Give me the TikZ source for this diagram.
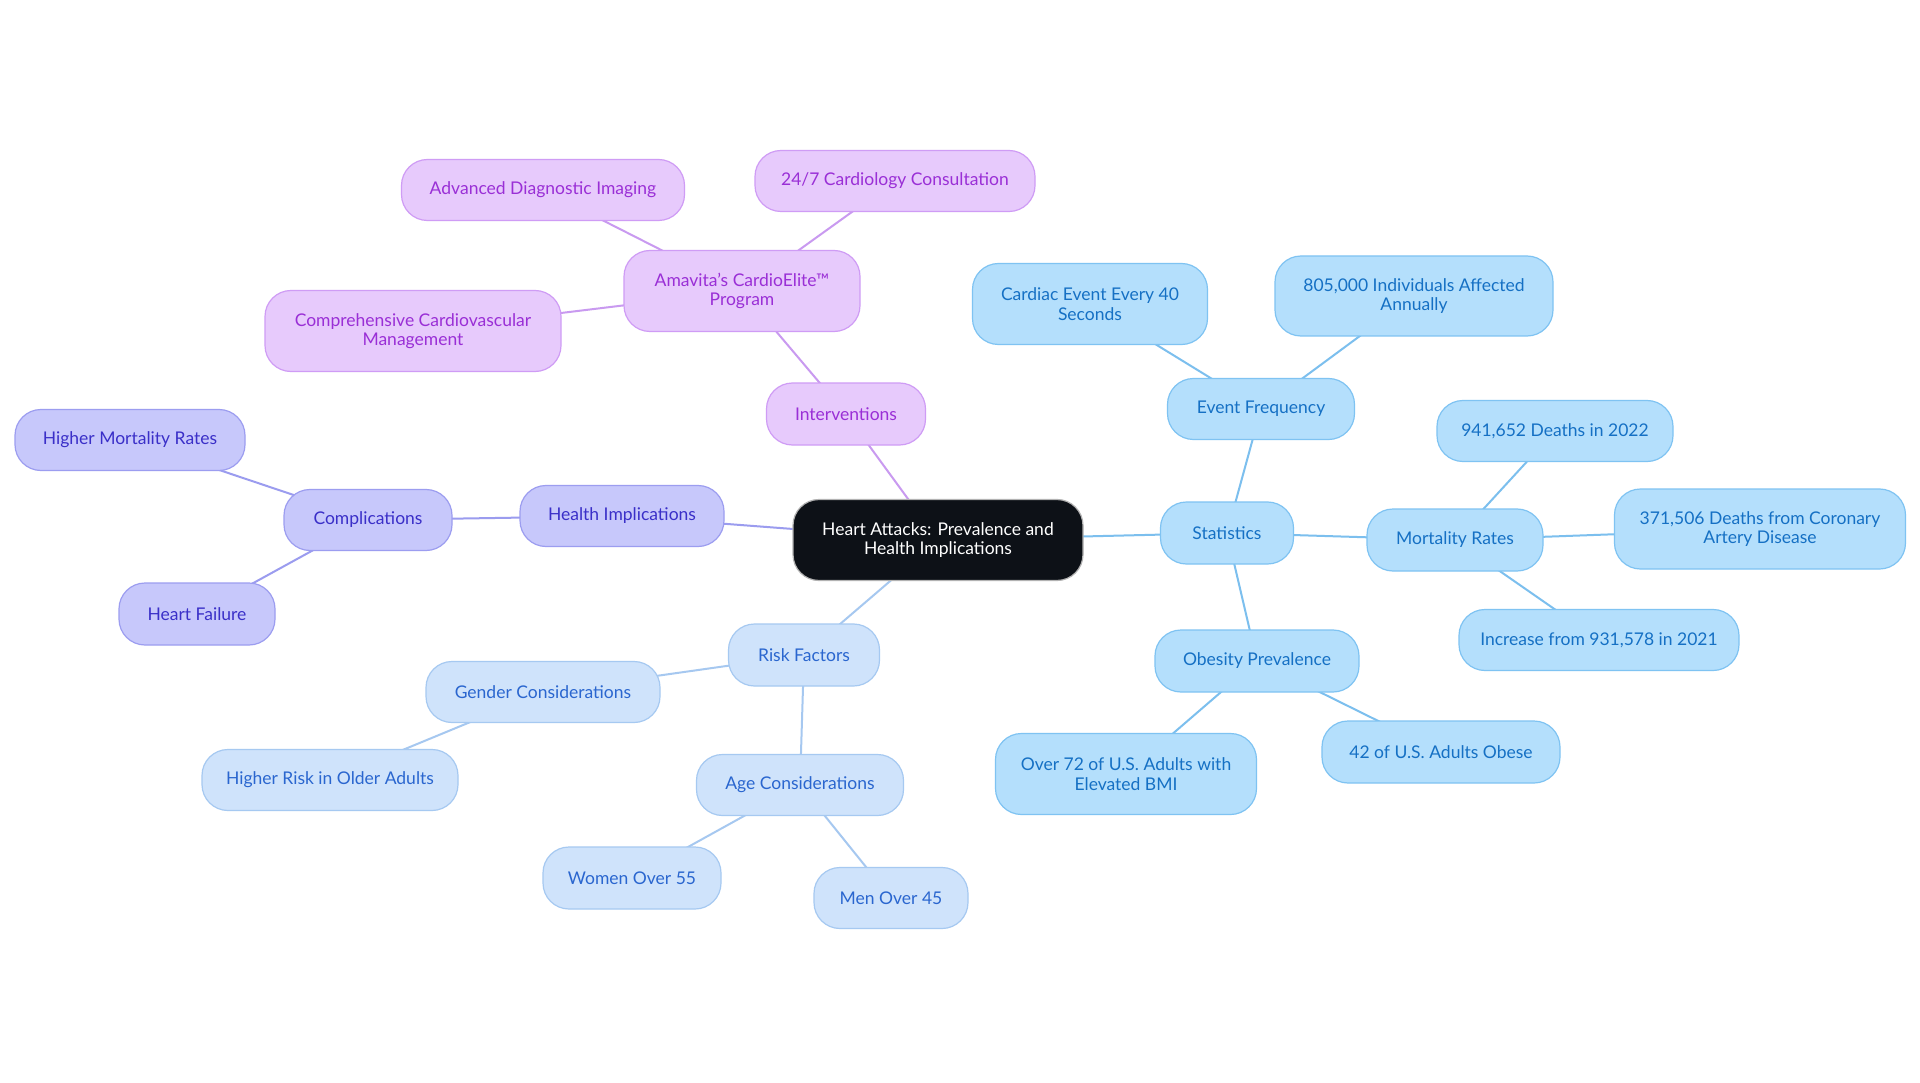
\documentclass[tikz,border=0pt]{standalone}
\usepackage{fontspec}
\setmainfont{Lato}
\usetikzlibrary{backgrounds}
\definecolor{rootfill}{HTML}{0D1117}
\definecolor{purfill}{HTML}{E7CAFC}
\definecolor{purdraw}{HTML}{CF9CF5}
\definecolor{purtext}{HTML}{9A2FD6}
\definecolor{purline}{HTML}{C99AF0}
\definecolor{viofill}{HTML}{C7C8FB}
\definecolor{viodraw}{HTML}{9C9DF0}
\definecolor{viotext}{HTML}{3A2FC8}
\definecolor{violine}{HTML}{9B9CEF}
\definecolor{lbfill}{HTML}{CFE3FB}
\definecolor{lbdraw}{HTML}{A6C9F1}
\definecolor{lbtext}{HTML}{2A66CF}
\definecolor{lbline}{HTML}{A6C8F0}
\definecolor{skyfill}{HTML}{B4DFFC}
\definecolor{skydraw}{HTML}{7FC3F2}
\definecolor{skytext}{HTML}{1570C4}
\definecolor{skyline}{HTML}{7CBFEE}
\tikzset{
  box/.style={rounded corners=26pt, line width=1.2pt, align=center, inner sep=0pt,
    font=\fontsize{17.5}{19.5}\selectfont},
  rootbox/.style={box, fill=rootfill, draw=gray!60, text=white},
  purbox/.style={box, fill=purfill, draw=purdraw, text=purtext},
  viobox/.style={box, fill=viofill, draw=viodraw, text=viotext},
  lbbox/.style={box, fill=lbfill, draw=lbdraw, text=lbtext},
  skybox/.style={box, fill=skyfill, draw=skydraw, text=skytext},
  edge/.style={line width=2pt},
  puredge/.style={edge, draw=purline},
  vioedge/.style={edge, draw=violine},
  lbedge/.style={edge, draw=lbline},
  skyedge/.style={edge, draw=skyline}
}
\begin{document}
\begin{tikzpicture}[x=1pt,y=-1pt]
\useasboundingbox (0,0) rectangle (1920,1083);
% root
\node[rootbox, minimum width=290pt, minimum height=81pt] (root) at (938,540) {Heart Attacks: Prevalence and\\Health Implications};
% interventions branch
\node[purbox, minimum width=159pt, minimum height=62pt] (interv) at (846,414) {Interventions};
\node[purbox, minimum width=236pt, minimum height=81pt] (amavita) at (742,291) {Amavita's CardioElite™\\Program};
\node[purbox, minimum width=283pt, minimum height=61pt] (adv) at (543,190) {Advanced Diagnostic Imaging};
\node[purbox, minimum width=280pt, minimum height=61pt] (cons) at (895,181) {24/7 Cardiology Consultation};
\node[purbox, minimum width=296pt, minimum height=81pt] (comp) at (413,331) {Comprehensive Cardiovascular\\Management};
% health branch
\node[viobox, minimum width=204pt, minimum height=61pt] (health) at (622,516) {Health Implications};
\node[viobox, minimum width=168pt, minimum height=61pt] (complic) at (368,520) {Complications};
\node[viobox, minimum width=230pt, minimum height=61pt] (hmr) at (130,440) {Higher Mortality Rates};
\node[viobox, minimum width=156pt, minimum height=62pt] (hf) at (197,614) {Heart Failure};
% risk branch
\node[lbbox, minimum width=151pt, minimum height=62pt] (risk) at (804,655) {Risk Factors};
\node[lbbox, minimum width=234pt, minimum height=61pt] (gender) at (543,692) {Gender Considerations};
\node[lbbox, minimum width=256pt, minimum height=61pt] (older) at (330,780) {Higher Risk in Older Adults};
\node[lbbox, minimum width=207pt, minimum height=61pt] (age) at (800,785) {Age Considerations};
\node[lbbox, minimum width=178pt, minimum height=62pt] (women) at (632,878) {Women Over 55};
\node[lbbox, minimum width=154pt, minimum height=61pt] (men) at (891,898) {Men Over 45};
% statistics branch
\node[skybox, minimum width=133pt, minimum height=62pt] (stats) at (1227,533) {Statistics};
\node[skybox, minimum width=187pt, minimum height=61pt] (event) at (1261,409) {Event Frequency};
\node[skybox, minimum width=235pt, minimum height=81pt] (cardiac) at (1090,304) {Cardiac Event Every 40\\Seconds};
\node[skybox, minimum width=278pt, minimum height=80pt] (annual) at (1414,296) {805,000 Individuals Affected\\Annually};
\node[skybox, minimum width=176pt, minimum height=62pt] (mort) at (1455,540) {Mortality Rates};
\node[skybox, minimum width=236pt, minimum height=61pt] (d2022) at (1555,431) {941,652 Deaths in 2022};
\node[skybox, minimum width=291pt, minimum height=80pt] (coronary) at (1760,529) {371,506 Deaths from Coronary\\Artery Disease};
\node[skybox, minimum width=280pt, minimum height=61pt] (incr) at (1599,640) {Increase from 931,578 in 2021};
\node[skybox, minimum width=204pt, minimum height=62pt] (obes) at (1257,661) {Obesity Prevalence};
\node[skybox, minimum width=261pt, minimum height=81pt] (bmi) at (1126,774) {Over 72 of U.S. Adults with\\Elevated BMI};
\node[skybox, minimum width=238pt, minimum height=62pt] (obese) at (1441,752) {42 of U.S. Adults Obese};
\begin{scope}[on background layer]
\fill[white] (0,0) rectangle (1920,1083);
\draw[puredge] (root.center) -- (interv.center);
\draw[puredge] (interv.center) -- (amavita.center);
\draw[puredge] (amavita.center) -- (adv.center);
\draw[puredge] (amavita.center) -- (cons.center);
\draw[puredge] (amavita.center) -- (comp.center);
\draw[vioedge] (root.center) -- (health.center);
\draw[vioedge] (health.center) -- (complic.center);
\draw[vioedge] (complic.center) -- (hmr.center);
\draw[vioedge] (complic.center) -- (hf.center);
\draw[lbedge] (root.center) -- (risk.center);
\draw[lbedge] (risk.center) -- (gender.center);
\draw[lbedge] (risk.center) -- (age.center);
\draw[lbedge] (gender.center) -- (older.center);
\draw[lbedge] (age.center) -- (women.center);
\draw[lbedge] (age.center) -- (men.center);
\draw[skyedge] (root.center) -- (stats.center);
\draw[skyedge] (stats.center) -- (event.center);
\draw[skyedge] (stats.center) -- (mort.center);
\draw[skyedge] (stats.center) -- (obes.center);
\draw[skyedge] (event.center) -- (cardiac.center);
\draw[skyedge] (event.center) -- (annual.center);
\draw[skyedge] (mort.center) -- (d2022.center);
\draw[skyedge] (mort.center) -- (coronary.center);
\draw[skyedge] (mort.center) -- (incr.center);
\draw[skyedge] (obes.center) -- (bmi.center);
\draw[skyedge] (obes.center) -- (obese.center);
\end{scope}
\end{tikzpicture}
\end{document}
